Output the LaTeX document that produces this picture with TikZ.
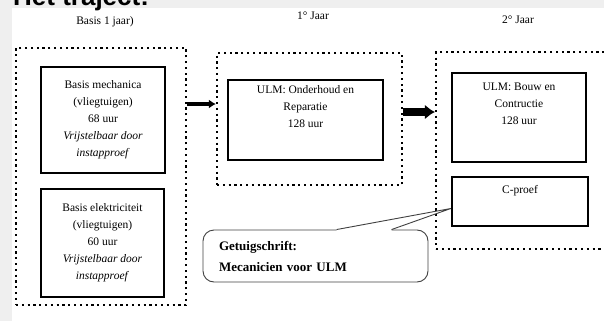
\documentclass[tikz,border=0pt]{standalone}
\usepackage{fontspec}
\setmainfont{Liberation Serif}
\newfontfamily\headfont{Liberation Sans}
\usetikzlibrary{positioning, arrows.meta, calc}
\definecolor{scangray}{HTML}{EFEFEF}

\begin{document}
\begin{tikzpicture}[
  x=1pt, y=-1pt,
  every node/.style={inner sep=0pt, font=\fontsize{11.5}{17}\selectfont},
  yeargroup/.style={draw, line width=2.2pt, dash pattern=on 2.2pt off 3.6pt},
  course/.style={draw, line width=2.4pt, align=center},
  heading/.style={font=\fontsize{11.5}{14}\selectfont},
  thinarrow/.style={-{Latex[length=7pt, width=9pt]}, line width=4pt},
  fatarrow/.style={-{Latex[length=10pt, width=15pt]}, line width=7.5pt},
  bubble/.style={draw=black!75, line width=0.9pt, rounded corners=11pt,
    font=\fontsize{13}{21}\selectfont\bfseries, align=left}
]
\useasboundingbox (0,0) rectangle (604,321);
\clip (0,0) rectangle (604,321);

% scan margins and title
\fill[scangray] (0,0) rectangle (604,8);
\fill[scangray] (0,0) rectangle (12,321);
\node[anchor=base west, font=\fontsize{26}{26}\selectfont\headfont\bfseries] (title) at (13,6) {Het traject:};

% column headings
\node[heading] (hBasis) at (105,22) {Basis 1 jaar)};
\node[heading] (hJaar1) at (313,16) {1° Jaar};
\node[heading] (hJaar2) at (518,20) {2° Jaar};

% dotted year groups
\node[yeargroup, minimum width=170pt, minimum height=257pt] (grpBasis) at (101,176.5) {};
\node[yeargroup, minimum width=185pt, minimum height=132pt] (grpJaar1) at (309.5,119) {};
\node[yeargroup, minimum width=180pt, minimum height=197pt] (grpJaar2) at (526,150.5) {};

% basis year
\node[course, minimum width=124pt, minimum height=106pt] (mech) at (103,120)
  {Basis mechanica\\(vliegtuigen)\\68 uur\\\textit{Vrijstelbaar door}\\\textit{instapproef}};
\node[course, minimum width=123pt, minimum height=108pt] (elek) at (102.5,243)
  {Basis elektriciteit\\(vliegtuigen)\\60 uur\\\textit{Vrijstelbaar door}\\\textit{instapproef}};

% first year
\node[course, minimum width=155pt, minimum height=80pt] (ond) at (305.5,120) {};
\node[align=center, below=7pt of ond.north] (ondText) {ULM: Onderhoud en\\Reparatie\\128 uur};

% second year
\node[course, minimum width=134pt, minimum height=89pt] (bouw) at (519,117.5) {};
\node[align=center, below=11pt of bouw.north] (bouwText) {ULM: Bouw en\\Contructie\\128 uur};
\node[course, minimum width=136pt, minimum height=49pt] (cproef) at (520,201.5) {};
\node[below=9pt of cproef.north] (cproefText) {C-proef};

% arrows between years
\draw[thinarrow] (grpBasis.east |- 0,104) -- (grpJaar1.west |- 0,104);
\draw[fatarrow] (grpJaar1.east |- 0,112) -- (grpJaar2.west |- 0,112);

% certificate callout
\node[bubble, minimum width=225pt, minimum height=52pt, text width=193pt, inner xsep=16pt] (cert) at (315.5,256)
  {Getuigschrift:\\Mecanicien voor ULM};
\coordinate (pL) at ($(cert.north west)+(134,0)$);
\coordinate (pR) at ($(cert.north west)+(189,0)$);
\coordinate (tip) at ($(cproef.west)+(0,7)$);
\fill[white] ($(pL)+(0,2)$) -- ($(pL)+(0,-1)$) -- (tip) -- ($(pR)+(0,-1)$) -- ($(pR)+(0,2)$) -- cycle;
\draw[black!75, line width=0.9pt] (pL) -- (tip) -- (pR);

\end{tikzpicture}
\end{document}
